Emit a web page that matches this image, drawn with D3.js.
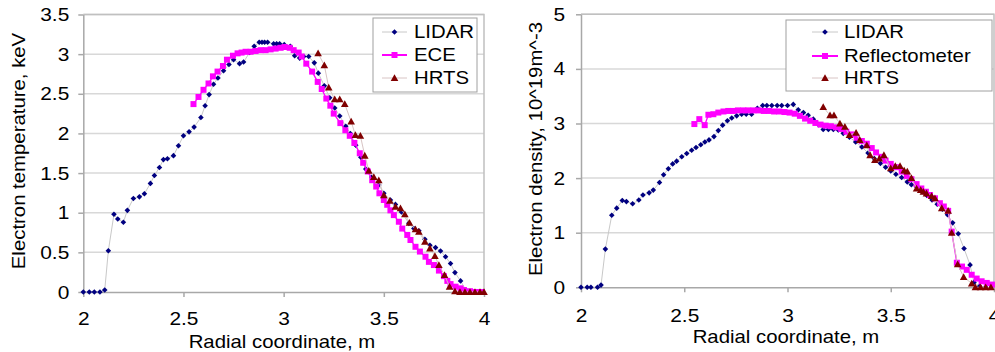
<!DOCTYPE html>
<html lang="en">
<head>
<meta charset="UTF-8">
<title>Electron temperature and density profiles</title>
<script src="https://d3js.org/d3.v7.min.js"></script>
<style type="text/css">
    body { margin: 0; background: #fff; }
    svg text { font-family: "Liberation Sans", Arial, sans-serif; fill: #000; }
</style>
</head>
<body>
<script type="text/javascript">

    // ---- data: [radius (m), value] ----
    const teLidar = [
        [2.00,0],[2.03,0],[2.055,0],[2.083,0],[2.107,0.025],[2.125,0.52],[2.153,0.98],[2.172,0.92],
        [2.20,0.88],[2.22,1.03],[2.25,1.18],[2.28,1.20],[2.305,1.24],[2.335,1.37],[2.355,1.47],
        [2.38,1.57],[2.40,1.67],[2.42,1.68],[2.45,1.72],[2.475,1.845],[2.50,1.97],[2.528,2.02],
        [2.553,2.08],[2.587,2.20],[2.608,2.35],[2.628,2.49],[2.65,2.62],[2.672,2.70],[2.70,2.79],
        [2.727,2.87],[2.75,2.93],[2.78,2.88],[2.80,2.90],[2.83,3.02],[2.853,3.10],[2.878,3.15],
        [2.892,3.15],[2.905,3.15],[2.92,3.15],[2.95,3.13],[2.965,3.13],[2.98,3.13],[3.003,3.12],
        [3.033,3.10],[3.055,2.98],[3.08,2.95],[3.10,2.97],[3.125,2.97],[3.153,2.89],[3.173,2.76],
        [3.203,2.60],[3.23,2.45],[3.255,2.32],[3.28,2.22],[3.31,2.09],[3.333,2.00],[3.36,1.85],
        [3.385,1.70],[3.41,1.55],[3.44,1.45],[3.475,1.35],[3.50,1.245],[3.533,1.16],[3.558,1.105],
        [3.588,1.01],[3.625,0.866],[3.65,0.80],[3.675,0.773],[3.705,0.665],[3.73,0.59],[3.758,0.56],
        [3.783,0.517],[3.808,0.445],[3.833,0.36],[3.855,0.245],[3.883,0.14],[3.91,0.02],[3.94,0],[3.97,0]
    ];
    const teEce = [
        [2.55,2.37],[2.575,2.46],[2.60,2.55],[2.625,2.63],[2.647,2.72],[2.67,2.78],[2.697,2.85],
        [2.717,2.93],[2.747,2.98],[2.77,3.01],[2.79,3.02],[2.81,3.03],[2.835,3.03],[2.86,3.04],
        [2.885,3.05],[2.91,3.05],[2.935,3.06],[2.96,3.07],[2.985,3.08],[3.005,3.09],[3.03,3.08],
        [3.05,3.05],[3.075,3.02],[3.09,2.97],[3.113,2.88],[3.142,2.78],[3.17,2.65],[3.19,2.56],
        [3.213,2.44],[3.233,2.35],[3.25,2.25],[3.283,2.13],[3.308,2.04],[3.33,1.97],[3.353,1.88],
        [3.38,1.75],[3.397,1.63],[3.42,1.52],[3.442,1.41],[3.462,1.33],[3.478,1.245],[3.50,1.16],
        [3.517,1.10],[3.533,1.03],[3.55,0.97],[3.575,0.886],[3.592,0.80],[3.617,0.72],[3.633,0.656],
        [3.658,0.57],[3.68,0.51],[3.708,0.445],[3.725,0.38],[3.75,0.34],[3.775,0.27],[3.80,0.20],
        [3.817,0.14],[3.833,0.10],[3.858,0.067],[3.883,0.046],[3.90,0.025],[3.93,0.01],[3.96,0],[3.99,0]
    ];
    const teHrts = [
        [3.172,3.01],[3.203,2.86],[3.225,2.58],[3.255,2.43],[3.28,2.43],[3.305,2.37],[3.337,2.15],
        [3.358,1.98],[3.383,1.97],[3.405,1.72],[3.425,1.53],[3.45,1.45],[3.475,1.41],[3.50,1.22],
        [3.53,1.15],[3.558,1.075],[3.583,1.055],[3.605,0.98],[3.628,0.874],[3.658,0.79],[3.675,0.76],
        [3.705,0.634],[3.73,0.55],[3.755,0.454],[3.775,0.34],[3.803,0.214],[3.828,0.067],[3.855,0.01],
        [3.88,0],[3.905,0],[3.93,0],[3.955,0],[3.98,0],[4.0,0]
    ];

    const neLidar = [
        [2.00,0],[2.03,0],[2.048,0],[2.08,0],[2.097,0.04],[2.118,0.70],[2.149,1.32],[2.173,1.45],
        [2.20,1.59],[2.22,1.57],[2.25,1.53],[2.28,1.60],[2.30,1.69],[2.33,1.73],[2.35,1.78],
        [2.38,1.92],[2.40,2.06],[2.423,2.17],[2.444,2.26],[2.463,2.31],[2.488,2.39],[2.512,2.45],
        [2.536,2.51],[2.557,2.56],[2.58,2.61],[2.60,2.66],[2.62,2.70],[2.644,2.76],[2.665,2.87],
        [2.686,2.97],[2.709,3.05],[2.73,3.10],[2.754,3.14],[2.778,3.17],[2.80,3.17],[2.826,3.17],
        [2.854,3.28],[2.88,3.33],[2.90,3.33],[2.924,3.33],[2.95,3.33],[2.972,3.33],[3.00,3.33],
        [3.028,3.35],[3.052,3.25],[3.077,3.20],[3.10,3.15],[3.125,3.08],[3.15,2.98],[3.173,2.89],
        [3.198,2.89],[3.222,2.89],[3.246,2.88],[3.27,2.82],[3.30,2.75],[3.33,2.66],[3.36,2.57],
        [3.39,2.46],[3.42,2.36],[3.45,2.27],[3.475,2.20],[3.50,2.13],[3.525,2.07],[3.553,2.01],
        [3.58,1.93],[3.60,1.88],[3.625,1.84],[3.65,1.76],[3.675,1.68],[3.70,1.60],[3.725,1.52],
        [3.75,1.43],[3.775,1.33],[3.80,1.18],[3.827,0.98],[3.855,0.71],[3.884,0.41],[3.903,0.09],
        [3.93,0.02],[3.96,0]
    ];
    const neRefl = [
        [2.549,2.99],[2.573,3.08],[2.599,2.97],[2.617,3.16],[2.641,3.17],[2.665,3.20],[2.69,3.22],
        [2.713,3.23],[2.737,3.23],[2.76,3.24],[2.786,3.24],[2.81,3.24],[2.835,3.24],[2.86,3.24],
        [2.885,3.23],[2.91,3.23],[2.935,3.22],[2.96,3.22],[2.985,3.21],[3.01,3.20],[3.035,3.18],
        [3.06,3.14],[3.085,3.09],[3.11,3.05],[3.135,3.01],[3.16,2.98],[3.185,2.96],[3.21,2.95],
        [3.235,2.93],[3.26,2.90],[3.285,2.85],[3.31,2.80],[3.335,2.74],[3.36,2.68],[3.384,2.63],
        [3.408,2.55],[3.429,2.47],[3.453,2.39],[3.475,2.32],[3.50,2.26],[3.525,2.20],[3.553,2.12],
        [3.578,2.04],[3.60,1.98],[3.625,1.89],[3.648,1.81],[3.67,1.75],[3.69,1.69],[3.714,1.63],
        [3.738,1.54],[3.757,1.48],[3.778,1.40],[3.795,1.02],[3.82,0.45],[3.845,0.38],[3.868,0.32],
        [3.892,0.23],[3.916,0.16],[3.94,0.11],[3.965,0.08],[3.99,0.05]
    ];
    const neHrts = [
        [3.173,3.30],[3.206,3.15],[3.225,3.15],[3.254,3.00],[3.278,2.94],[3.30,2.79],[3.332,2.83],
        [3.35,2.70],[3.384,2.60],[3.40,2.42],[3.423,2.33],[3.445,2.36],[3.467,2.42],[3.50,2.18],
        [3.522,2.22],[3.545,2.22],[3.565,2.14],[3.58,2.12],[3.60,2.00],[3.625,1.81],[3.645,1.78],
        [3.658,1.75],[3.673,1.72],[3.698,1.67],[3.714,1.63],[3.747,1.45],[3.778,1.40],[3.795,1.00],
        [3.824,0.42],[3.853,0.19],[3.892,0.07],[3.91,0],[3.935,0],[3.96,0],[3.985,0]
    ];

    const xTicks = [2, 2.5, 3, 3.5, 4];
    const teTicks = [0, 0.5, 1, 1.5, 2, 2.5, 3, 3.5];
    const neTicks = [0, 1, 2, 3, 4, 5];
    const teNames = ["LIDAR", "ECE", "HRTS"];
    const neNames = ["LIDAR", "Reflectometer", "HRTS"];

    // ---- styles ----
    const styles = [
        { marker: "diamond", fill: "#000080", line: "#c8c8c8", lw: 1 },
        { marker: "square",  fill: "#ff00ff", line: "#ff00ff", lw: 1.3 },
        { marker: "triangle", fill: "#800000", line: "#d8c4c4", lw: 1 }
    ];
    const markerPath = {
        diamond: "M0,-2.8L2.8,0L0,2.8L-2.8,0Z",
        square: "M-3,-3H3V3H-3Z",
        triangle: "M0,-3.8L3.8,3L-3.8,3Z"
    };
    const axisColor = "#a8a8a8";
    const gridColor = "#d8d8d8";
    const stretch = 1.1;

    const width = 995, height = 352;
    const svg = d3.select("body").append("svg")
        .attr("width", width)
        .attr("height", height);

    function drawPanel(p) {
        const x = d3.scaleLinear().domain([2, 4]).range([p.x0, p.x1]);
        const y = d3.scaleLinear().domain([p.yTicks[0], p.yTicks[p.yTicks.length - 1]]).range([p.y0, p.y1]);
        const g = svg.append("g");

        // gridlines
        g.selectAll(".grid").data(p.yTicks.slice(1))
            .enter().append("line")
            .attr("x1", p.x0).attr("x2", p.x1)
            .attr("y1", d => y(d)).attr("y2", d => y(d))
            .attr("stroke", gridColor).attr("stroke-width", 1.5);

        // frame top/right
        g.append("path")
            .attr("d", `M${p.x0},${p.y1}H${p.x1}V${p.y0}`)
            .attr("fill", "none").attr("stroke", "#c0c0c0").attr("stroke-width", 1.5);

        // axes
        const xAxis = g.append("g")
            .attr("transform", `translate(0,${p.y0})`)
            .call(d3.axisBottom(x).tickValues(xTicks).tickFormat(d => String(d))
                .tickSizeInner(5).tickSizeOuter(0).tickPadding(p.xPad));
        const yAxis = g.append("g")
            .attr("transform", `translate(${p.x0},0)`)
            .call(d3.axisLeft(y).tickValues(p.yTicks).tickFormat(d => String(d))
                .tickSizeInner(5).tickSizeOuter(0).tickPadding(p.yPad));
        [xAxis, yAxis].forEach(a => {
            a.select(".domain").attr("stroke", axisColor).attr("stroke-width", 1.5);
            a.selectAll(".tick line").attr("stroke", axisColor).attr("stroke-width", 1.5);
            a.selectAll(".tick text").attr("font-size", 19).attr("fill", "#000")
                .attr("font-family", "Liberation Sans, Arial, sans-serif");
        });

        // series
        const line = d3.line().x(d => x(d[0])).y(d => y(d[1]));
        p.series.forEach((s, i) => {
            const st = styles[i];
            g.append("path").datum(s)
                .attr("d", line)
                .attr("fill", "none")
                .attr("stroke", st.line)
                .attr("stroke-width", st.lw);
            g.selectAll(null).data(s)
                .enter().append("path")
                .attr("transform", d => `translate(${x(d[0])},${y(d[1])})`)
                .attr("d", markerPath[st.marker])
                .attr("fill", st.fill);
        });

        // axis titles
        g.append("text")
            .attr("x", p.xTitleX).attr("y", p.xTitleY)
            .attr("text-anchor", "middle")
            .attr("font-size", 18.5)
            .text("Radial coordinate, m");
        g.append("text")
            .attr("transform", `translate(${p.yTitleX},${p.yTitleY}) rotate(-90)`)
            .attr("text-anchor", "middle")
            .attr("font-size", 18.5)
            .text(p.yTitle);

        // legend
        const L = p.legend;
        const lg = g.append("g");
        lg.append("rect")
            .attr("x", L.x).attr("y", L.y).attr("width", L.w).attr("height", L.h)
            .attr("fill", "#fff").attr("stroke", "#a0a0a0").attr("stroke-width", 1);
        p.names.forEach((name, i) => {
            const st = styles[i];
            const cy = L.rows[i];
            lg.append("line")
                .attr("x1", L.lx0).attr("x2", L.lx1).attr("y1", cy).attr("y2", cy)
                .attr("stroke", st.line).attr("stroke-width", i === 1 ? 2 : 1);
            lg.append("path")
                .attr("transform", `translate(${(L.lx0 + L.lx1) / 2},${cy})`)
                .attr("d", markerPath[st.marker])
                .attr("fill", st.fill);
            lg.append("text")
                .attr("x", L.tx).attr("y", cy).attr("dy", "0.35em")
                .attr("font-size", 18.5)
                .text(name);
        });
    }

    drawPanel({
        x0: 83.3, x1: 484, y0: 292, y1: 14.5,
        yTicks: teTicks, series: [teLidar, teEce, teHrts], names: teNames,
        xPad: 15, yPad: 9,
        xTitleX: 282, xTitleY: 348,
        yTitleX: 25, yTitleY: 151, yTitle: "Electron temperature, keV",
        legend: { x: 373, y: 18, w: 104, h: 74, rows: [32, 55, 78], lx0: 382, lx1: 407, tx: 414 }
    });

    drawPanel({
        x0: 581, x1: 994, y0: 287.3, y1: 14.3,
        yTicks: neTicks, series: [neLidar, neRefl, neHrts], names: neNames,
        xPad: 16, yPad: 11,
        xTitleX: 786, xTitleY: 343,
        yTitleX: 542, yTitleY: 149, yTitle: "Electron density, 10^19m^-3",
        legend: { x: 786, y: 20, w: 206, h: 71, rows: [32, 56, 78], lx0: 812, lx1: 838, tx: 844 }
    });

    // widen glyphs slightly to match the source image's aspect
    svg.selectAll("text").each(function () {
        const w = this.getComputedTextLength();
        d3.select(this).attr("textLength", w * stretch).attr("lengthAdjust", "spacingAndGlyphs");
    });

</script>
</body>
</html>
